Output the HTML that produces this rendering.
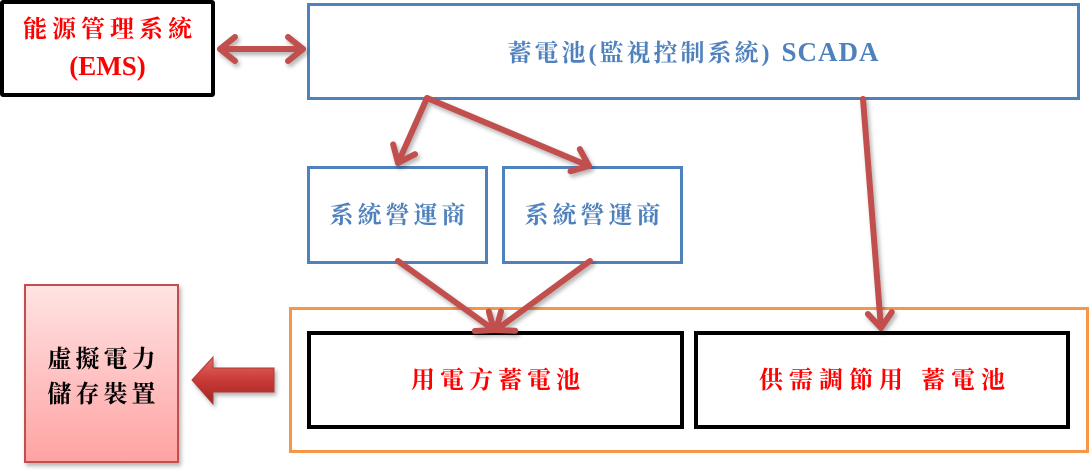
<!DOCTYPE html>
<html><head><meta charset="utf-8"><style>
html,body{margin:0;padding:0;background:#fff;}
#c{position:relative;width:1090px;height:474px;overflow:hidden;background:#fff;}
svg{position:absolute;left:0;top:0;}
.t{position:absolute;display:flex;align-items:center;justify-content:center;flex-direction:column;text-align:center;white-space:nowrap;font-family:"Liberation Serif","Noto Serif CJK SC","Noto Sans CJK TC",serif;font-weight:bold;line-height:1.35;}
</style></head><body><div id="c">
<svg width="1090" height="474" viewBox="0 0 1090 474" xmlns="http://www.w3.org/2000/svg">
<defs>
<marker id="ah" markerUnits="userSpaceOnUse" markerWidth="40" markerHeight="40" viewBox="-30 -20 40 40" refX="0" refY="0" orient="auto" overflow="visible">
<path d="M-15,-12 L0,0 L-15,12" fill="none" stroke="#C0504D" stroke-width="6" stroke-linecap="round" stroke-linejoin="round"/>
</marker>
<marker id="ahs" markerUnits="userSpaceOnUse" markerWidth="40" markerHeight="40" viewBox="-30 -20 40 40" refX="0" refY="0" orient="auto-start-reverse" overflow="visible">
<path d="M-15,-12 L0,0 L-15,12" fill="none" stroke="#C0504D" stroke-width="6" stroke-linecap="round" stroke-linejoin="round"/>
</marker>
<linearGradient id="pk" x1="0" y1="0" x2="0" y2="1">
<stop offset="0" stop-color="#FFE3E3"/>
<stop offset="1" stop-color="#FFA3A3"/>
</linearGradient>
<linearGradient id="ra" x1="0" y1="0" x2="0" y2="1">
<stop offset="0" stop-color="#E56A66"/>
<stop offset="0.5" stop-color="#C83A36"/>
<stop offset="1" stop-color="#9E2522"/>
</linearGradient>
<filter id="sh" x="-20%" y="-20%" width="140%" height="140%">
<feDropShadow dx="2" dy="3" stdDeviation="2" flood-color="#000" flood-opacity="0.3"/>
</filter>
</defs>
<rect x="2" y="2" width="211" height="93" fill="#fff" stroke="#000" stroke-width="4" rx="1"/>
<rect x="308.5" y="4.5" width="770" height="94" fill="#fff" stroke="#4F81BD" stroke-width="3"/>
<rect x="308.5" y="167.5" width="178" height="95" fill="#fff" stroke="#4F81BD" stroke-width="3"/>
<rect x="503.5" y="167.5" width="178" height="95" fill="#fff" stroke="#4F81BD" stroke-width="3"/>
<rect x="290.5" y="308.5" width="797" height="143" fill="#fff" stroke="#F79646" stroke-width="3"/>
<rect x="309" y="333" width="373" height="94" fill="#fff" stroke="#000" stroke-width="4"/>
<rect x="696" y="333" width="372" height="94" fill="#fff" stroke="#000" stroke-width="4"/>
<rect x="25" y="285" width="153" height="177" fill="url(#pk)" stroke="#C0504D" stroke-width="2" filter="url(#sh)"/>
<path d="M192,380 L213,357 L213,368 L274,368 L274,392 L213,392 L213,404 Z" fill="url(#ra)" stroke="#B03A36" stroke-width="1" filter="url(#sh)"/>
<g stroke="#C0504D" stroke-width="6" fill="none" stroke-linecap="round" filter="url(#sh)">
<line x1="220" y1="49" x2="303" y2="49" marker-start="url(#ahs)" marker-end="url(#ah)"/>
<line x1="427" y1="98" x2="398" y2="163" marker-end="url(#ah)"/>
<line x1="427" y1="98" x2="589" y2="166" marker-end="url(#ah)"/>
<line x1="398" y1="261" x2="494" y2="330" marker-end="url(#ah)"/>
<line x1="590" y1="261" x2="496" y2="330" marker-end="url(#ah)"/>
<line x1="863" y1="99" x2="881" y2="328" marker-end="url(#ah)"/>
</g>
</svg>
<div class="t" style="left:2px;top:14px;width:211px;height:70px;color:#FF0000;">
<div style="font-size:24px;letter-spacing:5px;padding-left:5px;">能源管理系統</div>
<div style="font-size:27px;margin-top:2px;">(EMS)</div>
</div>
<div class="t" style="left:308px;top:5px;width:771px;height:94px;color:#4F81BD;font-size:24px;">
<div style="letter-spacing:3px;">蓄電池(監視控制系統)&nbsp;<span style="font-size:27px;letter-spacing:1px;">SCADA</span></div>
</div>
<div class="t" style="left:308px;top:168px;width:179px;height:96px;color:#4F81BD;font-size:24px;">
<div style="letter-spacing:4px;padding-left:4px;">系統營運商</div>
</div>
<div class="t" style="left:503px;top:168px;width:179px;height:96px;color:#4F81BD;font-size:24px;">
<div style="letter-spacing:4px;padding-left:4px;">系統營運商</div>
</div>
<div class="t" style="left:309px;top:333px;width:373px;height:97px;color:#FF0000;font-size:24px;">
<div style="letter-spacing:5px;padding-left:5px;">用電方蓄電池</div>
</div>
<div class="t" style="left:696px;top:333px;width:372px;height:97px;color:#FF0000;font-size:24px;">
<div style="letter-spacing:6px;padding-left:6px;">供需調節用 蓄電池</div>
</div>
<div class="t" style="left:25px;top:340px;width:153px;height:76px;color:#000;font-size:24px;line-height:35px;">
<div style="letter-spacing:4px;padding-left:4px;">虛擬電力</div>
<div style="letter-spacing:4px;padding-left:4px;">儲存裝置</div>
</div>
</div></body></html>
